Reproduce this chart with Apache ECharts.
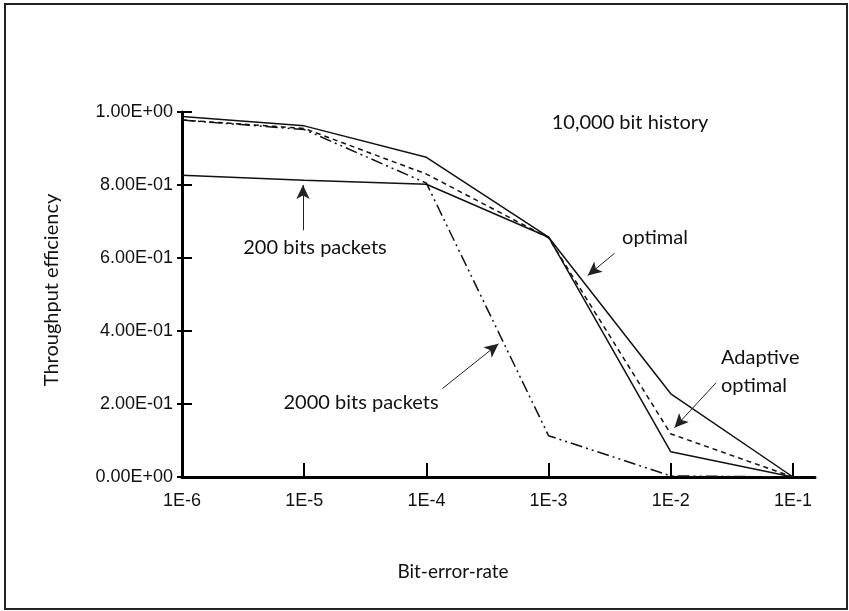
<!DOCTYPE html>
<html>
<head>
<meta charset="utf-8">
<script src="https://cdn.jsdelivr.net/npm/echarts@6/dist/echarts.min.js"></script>
<style>
  html, body { margin: 0; padding: 0; background: #fff; }
  #main { width: 849px; height: 611px; }
</style>
</head>
<body>
<div id="main"></div>
<script>
// bit-error-rate categories
const xLabels = ['1E-6', '1E-5', '1E-4', '1E-3', '1E-2', '1E-1']
const yTickLabels = ['0.00E+00', '2.00E-01', '4.00E-01', '6.00E-01', '8.00E-01', '1.00E+00']

// throughput efficiency
const optimal = [0.988, 0.962, 0.876, 0.657, 0.228, 0]
const adaptiveOptimal = [0.978, 0.955, 0.83, 0.655, 0.118, 0]
const bits200 = [0.827, 0.813, 0.802, 0.657, 0.069, 0]
const bits2000 = [0.978, 0.952, 0.805, 0.113, 0.003, 0]

// arrows (data coords: [x index, y])
const arrows = [
  [[3.54, 0.613], [3.32, 0.552]],
  [[0.99, 0.676], [0.99, 0.80]],
  [[2.13, 0.242], [2.59, 0.365]],
  [[4.37, 0.258], [4.03, 0.135]]
]

const tickFont = "'Liberation Sans Narrow', 'Arial Narrow', 'Liberation Sans', sans-serif"
const textFont = "Lato, 'Open Sans', sans-serif"

const toPts = (arr) => arr.map((v, i) => [i, v])

const lineSeries = (name, data, type) => ({
  name: name,
  type: 'line',
  data: toPts(data),
  symbol: 'none',
  lineStyle: { color: '#111', width: 1.5, type: type },
  silent: true,
  z: 3
})

const chart = echarts.init(document.getElementById('main'))

const option = {
  animation: false,
  backgroundColor: '#fff',
  grid: { left: 182, right: 34, top: 112, bottom: 134 },
  xAxis: {
    type: 'value',
    min: 0,
    max: 5.18,
    interval: 1,
    axisLine: { lineStyle: { color: '#000', width: 3 } },
    axisTick: {
      inside: true,
      length: 14,
      customValues: [1, 2, 3, 4, 5],
      lineStyle: { color: '#000', width: 2 }
    },
    axisLabel: {
      customValues: [0, 1, 2, 3, 4, 5],
      margin: 15,
      color: '#111',
      fontSize: 18,
      fontFamily: tickFont,
      formatter: (v) => xLabels[Math.round(v)]
    },
    splitLine: { show: false }
  },
  yAxis: [
    {
      type: 'value',
      min: 0,
      max: 1,
      interval: 0.2,
      axisLine: { show: true, lineStyle: { color: '#000', width: 3 } },
      axisTick: { inside: true, length: 10, lineStyle: { color: '#000', width: 2 } },
      axisLabel: {
        margin: 9,
        color: '#111',
        fontSize: 18,
        fontFamily: tickFont,
        formatter: (v) => yTickLabels[Math.round(v / 0.2)]
      },
      splitLine: { show: false }
    },
    {
      type: 'value',
      min: 0,
      max: 1,
      interval: 0.2,
      position: 'left',
      axisLine: { show: false },
      axisTick: { show: true, length: 5, lineStyle: { color: '#000', width: 2 } },
      axisLabel: { show: false },
      splitLine: { show: false }
    }
  ],
  series: [
    lineSeries('optimal', optimal, 'solid'),
    lineSeries('Adaptive optimal', adaptiveOptimal, [5, 4]),
    lineSeries('200 bits packets', bits200, 'solid'),
    lineSeries('2000 bits packets', bits2000, [12, 4, 2, 4, 2, 4]),
    {
      type: 'line',
      data: [],
      markLine: {
        silent: true,
        symbol: ['none', 'arrow'],
        symbolSize: [10, 14],
        label: { show: false },
        lineStyle: { color: '#222', width: 1, type: 'solid' },
        data: arrows.map((a) => [{ coord: a[0] }, { coord: a[1] }])
      }
    }
  ],
  graphic: [
    {
      type: 'rect',
      shape: { x: 5, y: 4, width: 842, height: 605 },
      style: { fill: 'none', stroke: '#222', lineWidth: 2 },
      silent: true
    },
    {
      type: 'text', x: 52, y: 290, rotation: Math.PI / 2,
      style: { text: 'Throughput efficiency', font: '20px ' + textFont, fill: '#111', align: 'center', verticalAlign: 'middle' }
    },
    {
      type: 'text', x: 453, y: 572,
      style: { text: 'Bit-error-rate', font: '19px ' + textFont, fill: '#111', align: 'center', verticalAlign: 'middle' }
    },
    {
      type: 'text', x: 630, y: 123,
      style: { text: '10,000 bit history', font: '20px ' + textFont, fill: '#111', align: 'center', verticalAlign: 'middle' }
    },
    {
      type: 'text', x: 655, y: 238,
      style: { text: 'optimal', font: '20px ' + textFont, fill: '#111', align: 'center', verticalAlign: 'middle' }
    },
    {
      type: 'text', x: 315, y: 248,
      style: { text: '200 bits packets', font: '20px ' + textFont, fill: '#111', align: 'center', verticalAlign: 'middle' }
    },
    {
      type: 'text', x: 361, y: 403,
      style: { text: '2000 bits packets', font: '20px ' + textFont, fill: '#111', align: 'center', verticalAlign: 'middle' }
    },
    {
      type: 'text', x: 721, y: 372,
      style: { text: 'Adaptive\noptimal', font: '20px ' + textFont, lineHeight: 28, fill: '#111', align: 'left', verticalAlign: 'middle' }
    }
  ]
}

chart.setOption(option)
</script>
</body>
</html>
